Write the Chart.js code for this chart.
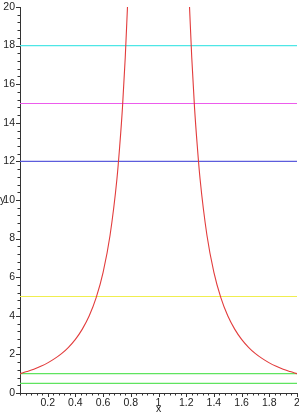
<!DOCTYPE html>
<html><head><meta charset="utf-8">
<script src="https://cdn.jsdelivr.net/npm/chart.js@4"></script>
<style>html,body{margin:0;padding:0;background:#fff}#w{width:299px;height:416px}</style>
</head><body><div id="w"><canvas id="c"></canvas></div>
<script>
// Red curve, left branch and right branch
const curveLeftX = [0, 0.05, 0.1, 0.15, 0.2, 0.25, 0.3, 0.35, 0.4, 0.45, 0.5, 0.55, 0.6, 0.65, 0.7, 0.72, 0.74, 0.76, 0.776];
const curveLeftY = [1, 1.11, 1.23, 1.38, 1.56, 1.78, 2.04, 2.37, 2.78, 3.31, 4.0, 4.94, 6.25, 8.16, 11.1, 12.8, 14.8, 17.4, 20];
const curveRightX = [1.224, 1.24, 1.26, 1.28, 1.3, 1.35, 1.4, 1.45, 1.5, 1.55, 1.6, 1.65, 1.7, 1.75, 1.8, 1.85, 1.9, 1.95, 2];
const curveRightY = [20, 17.4, 14.8, 12.8, 11.1, 8.16, 6.25, 4.94, 4.0, 3.31, 2.78, 2.37, 2.04, 1.78, 1.56, 1.38, 1.23, 1.11, 1];
// Horizontal reference lines
const levelValues = [18, 15, 12, 5, 1, 0.5];
const levelColors = ['#4ee6e6', '#ec5cec', '#5c5cdc', '#f0ee50', '#5fe45f', '#5fe45f'];
const xTickLabels = [0.2, 0.4, 0.6, 0.8, 1, 1.2, 1.4, 1.6, 1.8, 2];
const yTickLabels = [0, 2, 4, 6, 8, 10, 12, 14, 16, 18, 20];
const xMin = 0, xMax = 2, yMin = 0, yMax = 20;
const xMinorStep = 0.04, yMinorStep = 0.4;

const curvePts = curveLeftX.map((x, i) => ({x, y: curveLeftY[i]}))
  .concat([{x: 1, y: null}])
  .concat(curveRightX.map((x, i) => ({x, y: curveRightY[i]})));

const datasets = levelValues.map((v, i) => ({
  data: [{x: xMin, y: v}, {x: xMax, y: v}],
  borderColor: levelColors[i], borderWidth: 1.2, pointRadius: 0, tension: 0
}));
datasets.unshift({
  data: curvePts, borderColor: '#e23c3c', borderWidth: 1.1, pointRadius: 0,
  cubicInterpolationMode: 'monotone', spanGaps: false
});

const fontSpec = {family: 'Liberation Sans, Arial, sans-serif', size: 10.5};

const minorTicks = {
  id: 'minorTicks',
  afterDraw(chart) {
    const ctx = chart.ctx, xs = chart.scales.x, ys = chart.scales.y;
    const a = chart.chartArea;
    ctx.save();
    ctx.strokeStyle = '#333'; ctx.lineWidth = 1;
    ctx.beginPath();
    const nx = Math.round((xMax - xMin) / xMinorStep);
    for (let i = 0; i <= nx; i++) {
      const v = xMin + i * xMinorStep;
      const p = Math.round(xs.getPixelForValue(v)) + 0.5;
      const major = xTickLabels.some(t => Math.abs(t - v) < 1e-6);
      ctx.moveTo(p, a.bottom); ctx.lineTo(p, a.bottom + (major ? 4 : 2.5));
    }
    const ny = Math.round((yMax - yMin) / yMinorStep);
    for (let i = 0; i <= ny; i++) {
      const v = yMin + i * yMinorStep;
      const p = Math.round(ys.getPixelForValue(v)) + 0.5;
      const major = yTickLabels.some(t => Math.abs(t - v) < 1e-6);
      ctx.moveTo(a.left, p); ctx.lineTo(a.left - (major ? 4 : 2.5), p);
    }
    ctx.stroke();
    ctx.fillStyle = '#222';
    ctx.font = '10.5px Liberation Sans, Arial, sans-serif';
    ctx.textAlign = 'center'; ctx.textBaseline = 'middle';
    ctx.fillText('x', xs.getPixelForValue(1), a.bottom + 16);
    ctx.textAlign = 'left';
    ctx.fillText('y', 0, ys.getPixelForValue(10));
    ctx.restore();
  }
};

new Chart(document.getElementById('c'), {
  type: 'line',
  data: {datasets},
  options: {
    responsive: true, maintainAspectRatio: false, animation: false,
    layout: {padding: {top: 7, right: 2, left: 0, bottom: 0}},
    plugins: {legend: {display: false}, tooltip: {enabled: false}},
    scales: {
      x: {
        type: 'linear', min: xMin, max: xMax,
        afterBuildTicks: s => { s.ticks = xTickLabels.map(v => ({value: v})); },
        afterFit: s => { s.height = 23; s.paddingLeft = 0; s.paddingRight = 0; },
        grid: {display: false, drawTicks: false},
        border: {display: true, color: '#333', width: 1},
        ticks: {color: '#222', font: fontSpec, padding: 4, maxRotation: 0, autoSkip: false,
                callback: v => String(v)}
      },
      y: {
        type: 'linear', min: yMin, max: yMax,
        afterBuildTicks: s => { s.ticks = yTickLabels.map(v => ({value: v})); },
        afterFit: s => { s.width = 20; s.paddingTop = 0; s.paddingBottom = 0; },
        grid: {display: false, drawTicks: false},
        border: {display: true, color: '#333', width: 1},
        ticks: {color: '#222', font: fontSpec, padding: 5, autoSkip: false,
                callback: v => String(v)}
      }
    }
  },
  plugins: [minorTicks]
});
</script></body></html>
